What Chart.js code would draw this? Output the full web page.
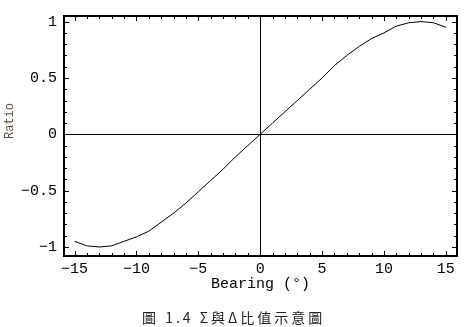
<!DOCTYPE html>
<html><head><meta charset="utf-8">
<script src="https://cdn.jsdelivr.net/npm/chart.js@4"></script>
<style>html,body{margin:0;padding:0;background:#fff;overflow:hidden}</style>
</head><body>
<canvas id="c" width="465" height="327"></canvas>
<script>
const bearing = [-15,-14,-13,-12,-11,-10,-9,-8,-7,-6,-5,-4,-3,-2,-1,0,1,2,3,4,5,6,7,8,9,10,11,12,13,14,15];
const ratio = [-0.95,-0.99,-1.0,-0.99,-0.95,-0.91,-0.86,-0.78,-0.70,-0.61,-0.51,-0.41,-0.31,-0.20,-0.10,0,0.10,0.20,0.30,0.40,0.50,0.61,0.70,0.78,0.85,0.90,0.96,0.99,1.0,0.99,0.95];
const xTickLabels = [-15,-10,-5,0,5,10,15];
const yTickLabels = [-1,-0.5,0,0.5,1];
const xMinorTicks = [-15,-14,-13,-12,-11,-10,-9,-8,-7,-6,-5,-4,-3,-2,-1,0,1,2,3,4,5,6,7,8,9,10,11,12,13,14,15];
const yMinorTicks = [-1,-0.9,-0.8,-0.7,-0.6,-0.5,-0.4,-0.3,-0.2,-0.1,0,0.1,0.2,0.3,0.4,0.5,0.6,0.7,0.8,0.9,1];
const xTitle = 'Bearing (°)';
const yTitle = 'Ratio';
const caption = '圖 1.4 Σ與Δ比值示意圖';

const MONO = '"Liberation Mono", "DejaVu Sans Mono", monospace';
const fmt = v => (v < 0 ? '\u2212' : '') + String(Math.abs(v));

const framePlugin = {
  id: 'frame',
  afterDatasetsDraw(chart) {
    const {ctx, chartArea: a, scales: {x, y}} = chart;
    ctx.save();
    ctx.strokeStyle = '#000';
    ctx.lineWidth = 1;
    const x0 = Math.round(x.getPixelForValue(0)) + 0.5;
    const y0 = Math.round(y.getPixelForValue(0)) + 0.5;
    ctx.beginPath();
    ctx.moveTo(x0, a.top); ctx.lineTo(x0, a.bottom);
    ctx.moveTo(a.left, y0); ctx.lineTo(a.right, y0);
    ctx.stroke();
    ctx.lineWidth = 2;
    ctx.strokeRect(a.left, a.top, a.right - a.left, a.bottom - a.top);
    ctx.lineWidth = 1;
    ctx.beginPath();
    const major = 5, minor = 3;
    xMinorTicks.forEach(v => {
      const px = Math.round(x.getPixelForValue(v)) + 0.5;
      const L = xTickLabels.includes(v) ? major : minor;
      ctx.moveTo(px, a.bottom); ctx.lineTo(px, a.bottom - L);
      ctx.moveTo(px, a.top); ctx.lineTo(px, a.top + L);
    });
    yMinorTicks.forEach(v => {
      const py = Math.round(y.getPixelForValue(v)) + 0.5;
      const L = yTickLabels.some(t => Math.abs(t - v) < 1e-9) ? major : minor;
      ctx.moveTo(a.left, py); ctx.lineTo(a.left + L, py);
      ctx.moveTo(a.right, py); ctx.lineTo(a.right - L, py);
    });
    ctx.stroke();
    ctx.fillStyle = '#5a5040';
    ctx.font = '12px ' + MONO;
    ctx.textAlign = 'center';
    ctx.textBaseline = 'middle';
    ctx.translate(10, 121);
    ctx.rotate(-Math.PI / 2);
    ctx.fillText(yTitle, 0, 0);
    ctx.restore();
    ctx.save();
    ctx.fillStyle = '#222';
    ctx.font = '14px "Noto Sans CJK TC"';
    ctx.letterSpacing = '3px';
    ctx.textAlign = 'left';
    ctx.textBaseline = 'middle';
    ctx.fillText(caption, 142, 318);
    ctx.restore();
  }
};

new Chart(document.getElementById('c'), {
  type: 'line',
  data: {
    datasets: [{
      data: bearing.map((b, i) => ({x: b, y: ratio[i]})),
      borderColor: '#000',
      borderWidth: 1,
      pointRadius: 0,
      tension: 0,
      fill: false
    }]
  },
  options: {
    responsive: false,
    animation: false,
    events: [],
    layout: {padding: {left: 0, right: 8, top: 13, bottom: 34}},
    plugins: {legend: {display: false}, tooltip: {enabled: false}},
    scales: {
      x: {
        type: 'linear', min: -15.85, max: 15.9,
        grid: {display: false, drawTicks: false}, border: {display: false},
        afterBuildTicks: s => { s.ticks = xTickLabels.map(v => ({value: v})); },
        afterFit: s => { s.height = 37; },
        ticks: {color: '#000', font: {family: MONO, size: 15}, padding: 4, maxRotation: 0, autoSkip: false, callback: v => fmt(v)},
        title: {display: true, text: xTitle, color: '#000', font: {family: MONO, size: 15}, padding: {top: 0, bottom: 0}}
      },
      y: {
        type: 'linear', min: -1.08, max: 1.05,
        grid: {display: false, drawTicks: false}, border: {display: false},
        afterBuildTicks: s => { s.ticks = yTickLabels.map(v => ({value: v})); },
        afterFit: s => { s.width = 64; },
        ticks: {color: '#000', font: {family: MONO, size: 15}, padding: 7, autoSkip: false, callback: v => fmt(v)}
      }
    }
  },
  plugins: [framePlugin]
});
</script>
</body></html>
